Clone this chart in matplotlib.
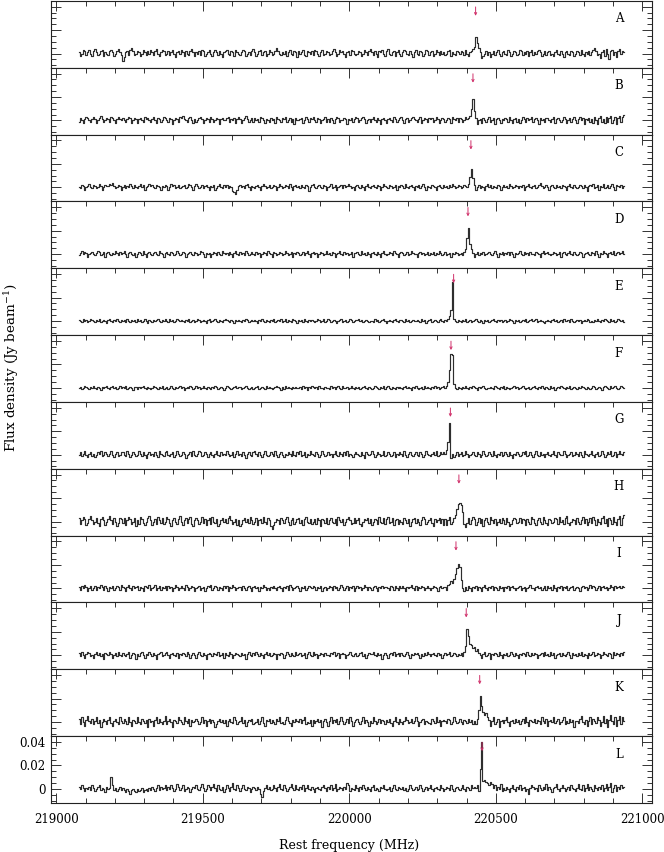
import numpy as np
import matplotlib
matplotlib.use("Agg")
import matplotlib.pyplot as plt
from matplotlib.ticker import MultipleLocator

plt.rcParams['font.family'] = 'DejaVu Serif'
plt.rcParams['mathtext.fontset'] = 'dejavuserif'

# Espectros: canais de 5 MHz a partir de 219077 MHz, valores em mJy/beam
f_inicio = 219077.0
canal = 5.0

painel_nomes = ['A', 'B', 'C', 'D', 'E', 'F', 'G', 'H', 'I', 'J', 'K', 'L']

spec_A = [1, -2, 0, 3, 2, -1, 1, 3, 0, -2,
          2, 4, 1, -1, 0, 2, 3, -2, 1, 0,
          -1, 2, 3, 1, -2, 0, 2, 4, 1, -1,
          -6, -3, 1, 2, -1, 3, 5, 2, -1, 0,
          2, 1, -2, 0, 3, 1, -1, 2, 0, 3,
          1, -1, 2, 4, 0, -2, 1, 3, 2, -1,
          0, 2, -1, 1, 3, 0, -3, 1, 2, 0,
          3, 1, -2, 2, 0, -1, 2, 4, 1, -2,
          1, 0, 2, -1, 3, 2, -2, 0, 1, 3,
          0, -2, 1, 3, 1, -1, 2, 0, -3, 1,
          2, 3, 0, -1, 2, 1, -2, 3, 1, 0,
          -1, 1, 3, 2, -2, 0, 1, -1, 2, 4,
          1, -2, 0, 2, 3, -1, 1, 2, -2, 0,
          3, 1, -1, 0, 2, 5, 2, 0, -1, 1,
          0, 2, -2, 1, 3, 0, -1, 2, 1, -3,
          2, 0, 1, 3, -1, -2, 2, 1, 0, 2,
          -1, 3, 2, 0, -2, 1, 3, -1, 0, 2,
          1, -1, 0, 2, 4, 1, -2, 0, 3, 1,
          2, 0, -3, 1, 2, -1, 3, 2, 0, -1,
          0, 2, 1, -2, 0, 3, 1, -1, 2, 4,
          1, -1, 2, 0, -3, 2, 1, 3, 0, -2,
          2, 4, 0, -1, 1, 2, -2, 1, 3, 0,
          -2, 1, 3, 2, 0, -1, 2, 0, -3, 1,
          3, 0, -1, 2, 1, -2, 0, 3, 2, -1,
          1, 2, -2, 0, 3, 1, -1, 2, 0, 1,
          -1, 0, 2, 3, -2, 1, 0, -1, 2, 1,
          0, 2, 1, -1, 3, 0, -2, 1, 2, 4,
          6, 14, 9, 5, 1, -4, -2, 0, 2, -1,
          1, -3, 0, 2, -1, 1, 3, 0, -2, 1,
          2, 0, -1, 3, 1, -2, 0, 2, 1, -1,
          0, 3, 2, -1, 1, 0, 2, -2, 1, 3,
          -1, 1, 0, 2, 3, 1, -2, 0, 2, -1,
          1, 2, -1, 0, -2, 1, 3, 0, -1, 2,
          0, -3, 1, 2, 0, -1, 2, 1, -2, 0,
          2, 1, -1, 3, 0, -2, 1, 0, 2, -1,
          1, 3, 5, 2, -1, 0, -4, 1, 3, -2,
          4, 0, -5, 2, 3, -1, 1, -3, 2, 4,
          0, 2, 1]

spec_B = [-1, 2, 0, -2, 1, 3, 2, 0, -1, 1,
          3, 1, -2, 0, 2, 4, 1, -1, 0, 2,
          1, -1, 3, 2, 0, -2, 1, 3, 1, 0,
          2, 0, -1, 1, 3, 2, -2, 0, 2, 1,
          -2, 1, 2, 0, -1, 3, 1, 2, 0, -1,
          1, 3, 0, -2, 2, 1, -1, 0, 3, 2,
          0, -1, 2, 1, -3, 0, 2, 1, -1, 3,
          2, 4, 1, 0, -1, 2, 3, 0, -2, 1,
          -1, 0, 2, 3, 1, -2, 0, 2, 1, -1,
          3, 1, -1, 0, 2, 1, -3, 1, 2, 0,
          0, 2, 3, -1, 1, 0, 2, -2, 1, 3,
          1, -2, 0, 2, 4, 1, -1, 0, 2, -1,
          2, 0, 1, -1, 3, 2, 0, -2, 1, 0,
          -1, 2, 0, 1, -2, 3, 1, 0, -1, 2,
          1, 3, -1, 0, 2, -1, 1, -3, 2, 0,
          0, 1, 2, -2, 0, 3, 1, -1, 2, 1,
          3, 0, -1, 2, 1, -2, 0, 1, 3, -1,
          1, -1, 2, 0, -2, 1, 3, 2, -1, 0,
          0, 2, 1, -3, 1, 0, 2, -1, 1, 3,
          2, -1, 0, 2, 3, 1, -2, 0, 1, -1,
          1, 3, 0, -1, 2, 0, -3, 1, 2, 0,
          -2, 1, 2, 0, -1, 3, 1, -1, 0, 2,
          3, 0, -2, 1, 2, -1, 0, 2, 3, 1,
          0, -1, 1, 3, -2, 0, 2, 1, -1, 2,
          1, 2, -1, 0, 3, 1, -2, 0, 2, 1,
          -1, 0, 2, 1, -2, 3, 1, 0, 2, -1,
          2, 1, -1, 0, 3, 1, 2, 4, 10, 18,
          8, 2, -3, 0, 1, -2, 2, 0, -1, 1,
          3, -1, 0, 2, -3, 1, 2, 0, -2, 1,
          0, 2, 1, -1, 3, 0, -2, 1, 2, -1,
          1, -2, 0, 3, 1, -1, 2, 0, 1, 3,
          -1, 1, 2, 0, -3, 2, 0, 1, -1, 2,
          2, 0, -1, 1, 3, -2, 1, 2, 0, -1,
          0, 3, 1, -2, 0, 2, -1, 1, 3, 0,
          -2, 1, 3, 0, 2, -3, 1, 0, 2, -1,
          1, -2, 3, 0, -3, 2, 4, -1, 1, -2,
          3, -1, 2, 4, -2, 0, 3, -3, 2, 4,
          -1, 3, 5]

spec_C = [0, -1, 2, 1, -2, 0, 1, 3, 0, -1,
          2, 1, -1, 0, 3, 1, -2, 0, 2, 1,
          1, 3, 2, 4, 1, -1, 0, 2, 1, -2,
          0, 2, -1, 1, 0, 3, 1, -1, 2, 0,
          -1, 1, 3, 0, 2, -2, 0, 1, 3, 1,
          2, 0, -1, 2, 1, 0, -2, 1, 0, 2,
          1, -2, 0, 3, 1, 2, -1, 0, 2, -1,
          0, 1, 2, -1, 0, 3, 2, 0, -2, 1,
          3, 1, -1, 0, 2, -1, 1, 2, 0, -2,
          1, 0, 2, -2, -1, 1, 3, 0, -1, 2,
          0, 2, -1, 1, 0, -3, -4, -6, -2, 1,
          2, 0, 1, -1, 2, 3, 0, -2, 1, 0,
          -1, 1, 2, 0, -2, 1, 3, 1, -1, 0,
          2, -1, 0, 2, 1, -2, 0, 3, 1, -1,
          0, 2, 1, -1, 3, 0, -2, 1, 2, 0,
          1, -1, 2, 0, -1, 2, 1, -3, 0, 2,
          3, 0, -1, 1, 2, 0, -1, 2, 1, -2,
          0, 1, 3, -1, 0, 2, -2, 0, 1, 2,
          -1, 2, 0, 1, 3, 1, -1, 0, -2, 1,
          2, 0, -1, 2, 0, -2, 1, 3, 0, -1,
          1, 2, 0, -1, 2, 1, -2, 0, 3, 1,
          0, -1, 2, 1, -1, 0, 2, -2, 1, 0,
          2, 1, -1, 3, 0, -1, 1, 2, 0, -2,
          1, 0, 2, -1, 1, 3, 0, -2, 1, 0,
          -1, 2, 1, 0, -2, 1, 2, 0, -1, 2,
          0, 1, -1, 2, 0, 3, 1, -1, 0, 2,
          1, -1, 0, 2, 1, 0, 3, 9, 16, 8,
          2, -2, 0, 2, -1, 1, 0, -2, 1, 3,
          0, 2, -1, 1, 0, -1, 2, 1, -2, 0,
          2, 0, 1, -1, 3, 1, -1, 0, 2, 1,
          -1, 1, 0, 2, -2, 0, 1, 3, 0, -1,
          1, 2, -1, 0, 2, 4, 1, -1, 0, 2,
          0, -2, 1, 2, 0, -1, 2, 0, 1, -1,
          2, 1, 0, -2, 1, 3, 0, -1, 2, 0,
          -1, 0, 2, 1, -1, 2, 0, -3, 1, 2,
          1, 3, -1, 0, 2, -2, 1, 0, 3, -1,
          0, 2, -1, 1, 3, 0, -2, 2, 1, 0,
          2, -1, 1]

spec_D = [-1, 1, 3, 0, 2, 1, -2, 0, 1, 2,
          0, -1, 1, 3, 2, -1, 0, 2, -2, 1,
          2, 0, -1, 1, 0, 3, 1, -1, 2, 0,
          1, 3, 0, -2, 1, 2, 0, -1, 1, -2,
          0, 2, 1, -1, 3, 0, -2, 1, 2, 0,
          -1, 1, 2, 0, -1, 3, 1, 0, -2, 1,
          2, 0, -1, 2, 1, -1, 0, 3, 1, -1,
          0, 2, 1, -2, 0, 1, 2, 0, -1, 2,
          1, -1, 0, 3, 2, 0, -2, 1, 0, 1,
          -2, 0, 2, 1, -1, 2, 0, -1, 3, 1,
          0, 1, -1, 2, 0, -2, 1, 3, 0, -1,
          2, 0, 1, -1, 3, 1, -1, 0, 2, 0,
          -1, 2, 0, 1, -2, 0, 2, 1, -1, 3,
          1, 0, -2, 2, 1, -1, 0, 2, 1, -1,
          0, 3, 1, -1, 0, 2, -2, 1, 0, 2,
          1, -1, 0, 2, -1, 1, 3, 0, -2, 1,
          2, 0, 1, -2, 0, 2, 1, -1, 0, 3,
          0, 1, -1, 2, 1, -2, 0, 1, 3, 0,
          -1, 2, 0, 1, -1, 0, 2, -2, 1, 1,
          2, 0, -1, 3, 0, 1, -1, 2, 0, -2,
          1, 2, 0, -1, 2, 0, -2, 1, 3, 0,
          -1, 0, 2, 1, -1, 3, 1, 0, -2, 1,
          2, 1, -1, 0, 2, -1, 0, 3, 1, 0,
          0, -2, 1, 2, 0, 1, -1, 0, 2, -1,
          1, 0, 2, -1, 1, 0, 3, 1, -1, 0,
          2, -1, 0, 1, -2, 1, 0, 2, 1, -1,
          0, 1, -1, 2, 4, 14, 22, 9, 4, 1,
          -2, 0, 2, -1, 1, 0, 2, -1, 0, 1,
          2, 0, -1, 1, 3, 0, -2, 1, 0, 2,
          -1, 1, 0, 2, -1, 2, 0, -2, 1, 0,
          1, 3, 0, -1, 2, 0, 1, -1, 2, 0,
          0, -1, 2, 1, 0, -2, 1, 3, 0, 1,
          2, 0, -1, 0, 2, 1, -1, 0, 2, -2,
          1, 2, 0, -1, 1, 3, 0, -1, 2, 0,
          -1, 0, 2, 1, -2, 0, 1, 2, 0, -1,
          2, 1, -1, 3, 0, -2, 1, 0, 3, 1,
          0, -2, 1, 2, 0, 3, -1, 1, 2, 0,
          1, 3, 0]

spec_E = [1, 0, -1, 2, 0, 1, -1, 0, 2, 1,
          0, -1, 1, 0, 2, -1, 0, 1, 0, -2,
          1, 2, 0, -1, 1, 0, 2, 0, -1, 1,
          0, 1, -1, 2, 0, -1, 1, 0, 1, -1,
          2, 0, 1, -1, 0, 2, 0, -2, 1, 0,
          -1, 1, 0, 1, 2, 0, -1, 1, 0, 2,
          0, -1, 2, 0, 1, -1, 0, 2, 1, 0,
          1, 0, -1, 1, 0, 2, -1, 0, 1, -1,
          0, 2, 1, -1, 0, 1, 0, -2, 1, 2,
          -1, 0, 1, 2, 0, -1, 1, 0, -1, 1,
          2, 1, 0, -1, 1, 0, -2, 1, 0, 1,
          0, -1, 1, 0, 2, 1, -1, 0, 1, 0,
          1, 0, -2, 1, 0, 2, 0, -1, 1, 0,
          -1, 1, 0, 2, -1, 0, 1, 0, 2, -1,
          0, 2, -1, 1, 0, -1, 2, 1, 0, -2,
          1, 0, 1, -1, 2, 0, -1, 1, 0, 1,
          0, -1, 0, 2, 1, -1, 0, 2, -1, 0,
          2, 1, -1, 0, 1, 0, -2, 0, 1, 2,
          -1, 0, 1, -1, 0, 2, 1, -1, 0, 1,
          1, 2, 0, 1, -1, 0, 1, 0, -1, 0,
          0, -1, 2, 0, 1, -1, 0, 1, 2, 0,
          -2, 0, 1, 0, -1, 1, 2, 0, -1, 1,
          1, 0, -1, 2, 0, 1, -1, 0, 1, 0,
          0, 1, 0, -1, 2, 0, 1, -2, 0, 1,
          2, -1, 0, 1, 0, -1, 1, 2, 0, -1,
          1, 0, 2, 4, 9, 33, 2, 0, -1, 1,
          0, -1, 1, 0, 2, -1, 0, 1, -1, 0,
          1, 2, 0, -1, 1, 0, -2, 1, 0, 1,
          -1, 0, 1, 2, 0, -1, 1, 0, 1, -1,
          0, 1, -1, 0, 2, 1, 0, -2, 1, 0,
          1, -1, 0, 1, 0, 2, -1, 0, 1, 2,
          0, 1, 2, -1, 0, 1, 0, -1, -2, 0,
          1, 0, -1, 1, 2, 0, 1, -1, 0, 1,
          -1, 2, 0, 0, 1, -1, 2, 0, -1, 0,
          1, 0, 1, -2, 0, 1, 0, 2, 1, -1,
          0, -1, 1, 0, 2, 0, -1, 1, 0, 2,
          1, 0, -1, 2, 0, 1, -1, 0, 2, 1,
          0, 1, -1]

spec_F = [0, 1, -1, 0, 2, 1, 0, -1, 1, 0,
          2, 0, -1, 1, 0, -2, 1, 0, 1, 2,
          0, -1, 1, 2, 0, 1, -1, 0, 2, 0,
          1, 0, 2, -1, 0, 1, 0, -2, 1, 1,
          -1, 1, 0, 1, 2, 0, -1, 1, 0, -1,
          0, 2, 1, 0, -1, 1, 0, 2, -1, 0,
          1, -1, 0, 2, 0, -1, 1, 0, 1, 2,
          0, 1, -2, 0, 1, 0, 2, 1, -1, 0,
          2, 0, 1, -1, 0, 2, 0, -1, 1, 0,
          -1, 1, 0, 2, 1, -1, 0, 1, 0, -2,
          0, 2, 1, 0, -1, 0, 1, 2, 0, 1,
          1, -1, 0, 1, 2, 0, -1, 0, 1, -1,
          0, 1, 2, -1, 0, 1, 0, -1, 2, 0,
          1, 0, -1, 0, 1, 2, 1, 0, -2, 1,
          -1, 2, 0, 1, 0, -1, 1, 0, 1, 0,
          0, 1, -1, 2, 0, 1, -2, 1, 0, 2,
          1, 0, 1, -1, 2, 0, 0, -1, 1, 0,
          0, -1, 2, 0, 1, -1, 1, 2, 0, -1,
          2, 0, 0, 1, -1, 0, 2, 0, -1, 1,
          0, 1, -1, 0, 1, 2, 0, -1, 1, 0,
          -1, 0, 2, 1, 0, -1, 1, 0, 2, -1,
          1, 2, 0, -1, 1, 0, -1, 1, 0, 1,
          0, -1, 1, 2, 0, 1, 0, -2, 1, 0,
          2, 0, -1, 0, 1, -1, 2, 0, 1, 0,
          -1, 1, 0, 2, 0, 1, -1, 0, 1, 2,
          0, 2, 5, 15, 29, 28, 3, 0, -1, 1,
          0, -1, 1, 0, 2, 0, -1, 1, 0, 2,
          1, 0, -2, 1, 0, 1, 2, 0, -1, 0,
          0, 1, 0, -1, 2, 1, 0, -1, 1, 0,
          2, -1, 1, 0, -1, 0, 1, 2, 0, 1,
          -1, 0, 1, 2, 0, -1, 0, 1, -1, 0,
          1, 2, 0, -1, 1, 0, 2, 0, -1, 1,
          0, -1, 2, 0, 1, -2, 0, 1, 0, 2,
          1, 0, -1, 1, 0, 2, -1, 0, 1, 0,
          -1, 1, 0, 2, 1, 0, -1, 1, 0, -1,
          0, 2, 1, -1, 0, 1, 0, -2, 1, 2,
          1, 0, -1, 2, 0, 1, 2, 0, -1, 0,
          2, 1, 0]

spec_G = [0, 2, -1, 1, 3, 0, -2, 1, 2, -1,
          1, -2, 0, 2, 1, 3, -1, 0, 2, 1,
          -1, 1, 3, 0, -2, 1, 2, -1, 0, 2,
          2, 0, -1, 3, 1, -2, 0, 2, 1, -1,
          0, 3, 1, -1, 2, 0, -3, 1, 2, 0,
          1, -1, 2, 0, -2, 3, 1, 0, -1, 2,
          3, 0, -1, 1, 2, -2, 0, 3, 1, -1,
          0, 2, 1, -3, 0, 1, 2, -1, 3, 0,
          -1, 1, 3, 2, -1, 0, 2, 1, -2, 1,
          2, 0, -2, 1, 3, 0, -1, 2, 0, 1,
          0, 3, 1, -1, 0, 2, -2, 1, 3, 0,
          1, -1, 2, 0, -3, 1, 2, 0, -1, 2,
          3, 1, -1, 2, 0, -2, 1, 3, 0, -1,
          0, 2, 1, -1, 3, 0, -2, 1, 2, 0,
          -2, 1, 0, 2, 1, -1, 3, 0, -1, 2,
          1, 3, -1, 0, 2, -2, 1, 0, 3, 1,
          0, -1, 2, 1, -2, 0, 3, 1, -1, 0,
          2, 0, 1, -2, 1, 3, 0, -1, 2, 1,
          -1, 2, 0, 3, -1, 1, 0, -2, 1, 2,
          1, 0, -1, 2, 0, -3, 2, 1, 0, 1,
          3, 1, -2, 0, 2, 1, -1, 0, 3, -1,
          0, 2, 1, -1, 0, 2, -2, 1, 0, 2,
          1, -1, 3, 0, -2, 1, 2, 0, -1, 1,
          2, 0, -1, 2, 1, -2, 0, 3, 1, 0,
          -1, 1, 2, 0, 3, -1, 0, 2, 1, 2,
          1, 4, 11, 27, -3, 1, -2, 0, 2, -1,
          1, 2, -1, 0, 3, 1, -2, 0, 1, 2,
          0, -1, 2, 1, -2, 0, 3, 1, -1, 0,
          2, 1, -1, 3, 0, -2, 1, 0, 2, -1,
          0, 2, 1, -1, 2, 0, -3, 1, 0, 2,
          1, -1, 0, 2, 1, 3, -1, 0, 2, 0,
          -2, 1, 3, 0, -1, 2, 0, 1, -2, 1,
          2, 0, -1, 1, 3, 0, -2, 2, 1, 0,
          0, 3, 1, -2, 0, 1, 2, -1, 0, 2,
          1, -1, 2, 0, -2, 3, 1, 0, -1, 1,
          3, 0, -2, 1, 2, -1, 0, 3, 1, -2,
          0, 2, 1, 3, -1, 0, 2, -2, 1, 3,
          1, 0, 2]

spec_H = [3, -2, 1, 4, 2, -3, -1, 2, 5, 1,
          -2, 0, 3, -1, -4, 2, 4, 1, -3, 0,
          2, 5, 1, -2, 3, 0, -4, -1, 3, 2,
          -1, 3, -3, 1, 4, 2, -2, 0, 3, -4,
          1, -2, 4, 2, -1, -3, 0, 3, 5, 1,
          -3, 0, 2, -2, 4, 1, -1, 3, -2, 0,
          4, 2, -1, -4, 1, 3, 0, -2, 2, 5,
          0, -3, 1, 3, -1, 2, 4, -2, -4, 1,
          3, 1, -2, 0, 4, -1, 2, -3, 1, 3,
          -2, 4, 0, -1, 2, -4, -2, 1, 3, 0,
          2, -1, 3, 5, 1, -2, 0, 2, -3, 1,
          -4, -2, 1, 3, 0, 2, -1, 4, 1, -2,
          0, 3, -3, 1, 2, -1, 4, 0, -2, 3,
          1, -4, -6, -3, 0, 2, 1, -2, 3, 1,
          -1, 2, 4, 0, -3, 1, 3, -2, 0, 2,
          3, -1, 1, -3, 2, 4, 0, -1, 2, -2,
          0, 2, -2, 3, 1, -4, 2, 1, -1, 3,
          -2, 1, 3, 0, -1, 2, -3, 4, 1, 0,
          2, -3, 0, 2, 4, 1, -2, -1, 3, -1,
          1, 3, -2, -4, 0, 2, 1, 3, -1, 2,
          -3, 0, 2, 1, -2, 4, 0, -1, 3, -2,
          2, 4, -1, 0, 3, -3, 1, 2, -2, 1,
          0, -2, 3, 1, -1, 2, -4, 0, 2, 3,
          -1, 2, 0, -3, 1, 4, 2, -2, 0, 1,
          3, -1, -4, 2, 0, 1, 3, -1, 2, -3,
          2, -3, 1, 4, -2, 0, 3, 6, 11, 15,
          16, 14, 8, -2, -5, -1, 3, -2, 1, 4,
          2, -3, 0, 3, -1, 2, -4, 1, 3, 0,
          -2, 4, 1, -1, 2, -3, 0, 2, -1, 3,
          1, -2, 3, 0, -4, -2, 1, 3, 2, -1,
          0, 3, -1, 2, 1, -3, 2, 0, -2, 4,
          2, -1, -3, 1, 3, 0, -2, 4, 1, -1,
          -3, 2, 1, -1, 0, 3, 2, -2, 4, 0,
          1, -2, 3, 5, -1, -3, 0, 2, 1, -2,
          3, 0, -2, 1, 4, -1, 2, -3, 0, 3,
          -1, 4, 1, -3, 2, 0, -2, 3, 5, -1,
          2, -4, 3, 1, -2, 4, 0, -3, 2, 5,
          -3, 3, 6]

spec_I = [1, -1, 2, 0, 3, 1, -2, 0, 2, -1,
          0, 2, -1, 1, 0, 3, 1, -1, 2, 0,
          -2, 1, 0, 2, -1, 0, 2, 1, -1, 3,
          1, 0, -2, 1, 3, 0, -1, 2, 0, 1,
          2, -1, 1, 0, -2, 2, 1, 0, 3, -1,
          0, 1, 3, -1, 0, 2, -1, 1, 0, 2,
          -1, 2, 0, 1, -2, 0, 3, 1, -1, 0,
          2, 0, -1, 3, 1, -1, 0, 2, 1, -2,
          0, 1, 2, -1, 0, 1, -2, 0, 2, 1,
          3, -1, 0, 2, 1, -1, 1, 0, -1, 2,
          0, 2, -2, 1, 0, 3, 1, -1, 0, 1,
          1, -1, 2, 0, -1, 1, 2, 0, -2, 1,
          2, 0, 1, -2, 1, 0, 3, 1, -1, 0,
          -1, 1, 0, 2, 0, -1, 1, 2, 0, -2,
          1, 0, 2, -1, 3, 1, -1, 0, 1, 2,
          0, -2, 1, 0, 2, -1, 0, 2, 1, 0,
          2, 1, -1, 1, 0, 2, -2, 0, 1, -1,
          0, 2, 1, -1, 2, 0, 1, -1, 0, 3,
          1, -1, 0, 2, -1, 1, 0, 2, -2, 0,
          2, 0, 1, -1, 0, 3, 1, -1, 1, 0,
          -1, 1, 2, 0, -2, 1, 0, 2, 0, 1,
          1, 0, -1, 2, 1, -1, 2, 0, -1, 2,
          0, 2, 0, -2, 1, 0, 1, 3, 0, -1,
          2, -1, 1, 0, 2, 1, -1, 0, 2, 0,
          -1, 0, 2, 1, 0, -2, 1, 2, 0, 1,
          1, -1, 3, 4, 6, 5, 8, 12, 17, 21,
          18, 7, 0, -2, 1, -1, 2, 0, -2, 1,
          0, 2, -1, 1, 0, -2, 1, 3, 0, -1,
          1, 0, 2, -1, 1, 0, -1, 2, 0, 1,
          -2, 1, 0, 2, -1, 1, 2, 0, -1, 0,
          1, 2, -1, 0, 1, -2, 0, 1, 3, 0,
          0, -1, 1, 2, 0, 1, -1, 0, 2, -1,
          2, 0, 1, -1, 3, 0, -2, 1, 0, 2,
          -1, 1, 0, 2, -1, 0, 1, 2, -1, 0,
          1, 0, -2, 1, 2, 0, 1, -1, 0, 3,
          0, 2, 1, -1, 0, 2, -1, 1, 2, 0,
          1, -1, 0, 3, 1, -1, 2, 0, 1, 2,
          0, 2, 1]

spec_J = [2, -1, 3, 0, -2, 1, 3, 2, -1, 0,
          -2, 1, 3, 0, 2, -1, 1, -3, 2, 1,
          0, 3, 1, -2, 0, 2, -1, 3, 0, -1,
          2, 0, -1, 1, 3, -2, 0, 2, 1, -3,
          1, -1, 2, 3, 0, -2, 1, 0, 3, 1,
          -1, 2, 0, -3, 1, 2, 3, -1, 0, 2,
          3, 0, -2, 1, 2, 0, -1, 2, -2, 1,
          0, 2, 1, -1, 3, 1, -2, 0, 2, 0,
          -2, 1, 3, 0, -1, 2, 0, -3, 1, 2,
          1, -1, 2, 1, 0, 3, -1, 0, 2, -2,
          2, 0, -1, 3, 1, -2, 0, 2, 1, 0,
          -1, 2, 0, 1, -3, 1, 3, 0, -1, 2,
          0, 3, 1, -1, 2, 0, -2, 1, 3, 0,
          2, -1, 0, 2, 1, -3, 1, 0, 2, 1,
          -2, 0, 3, 1, -1, 2, 0, -1, 3, 0,
          1, 2, -1, 0, 2, -2, 1, 3, 0, -1,
          3, 0, 1, -2, 0, 2, 1, -1, 2, 0,
          0, -1, 2, 1, 3, -1, 0, 2, -2, 1,
          2, 1, -2, 0, 1, 3, 0, -1, 1, 2,
          -1, 0, 2, 3, -1, 1, -2, 0, 2, 1,
          1, 3, 0, -1, 2, 0, 1, -3, 0, 2,
          0, -2, 1, 2, 0, 3, -1, 1, 2, -1,
          2, 0, -1, 1, 3, 0, -2, 1, 0, 2,
          1, 2, 0, -2, 1, -1, 2, 0, 3, 1,
          -1, 1, 2, 0, -1, 2, 0, 1, -2, 0,
          2, 0, 1, 3, -1, 0, 2, 1, -1, 1,
          0, 2, -1, 3, 8, 22, 16, 10, 9, 6,
          7, 4, 5, 2, 0, -2, 1, 3, -1, 0,
          2, -3, 1, 0, 2, 1, -1, 3, 0, -2,
          1, 0, 2, -1, 0, 3, 1, -1, 2, 0,
          -2, 1, 0, 2, 1, -1, 3, 0, -1, 2,
          0, 2, 1, -2, 0, 1, 2, -1, 3, 0,
          1, -1, 3, 0, 2, -2, 0, 1, 2, -1,
          2, 0, -1, 1, 3, 0, -2, 2, 0, 1,
          -1, 2, 0, 3, -1, 1, 0, -2, 2, 0,
          1, 3, -1, 0, 2, 1, -2, 0, 3, 1,
          0, -1, 2, 1, -2, 3, 0, 2, 1, -1,
          2, 0, 3]

spec_K = [3, -2, 4, 0, -3, 2, 5, 1, -1, 3,
          -2, 1, 4, -1, 2, -4, 0, 3, 1, -2,
          2, 4, -1, -3, 1, 3, 0, -2, 4, 1,
          -1, 3, 1, -2, 4, 0, -3, 2, 1, -1,
          4, 0, -2, 3, 1, -1, 2, -4, 3, 0,
          1, -3, 2, 4, -1, 3, 0, -2, 1, 5,
          -2, 1, 3, 0, -4, 2, 1, -1, 4, 2,
          0, -2, 4, 1, -1, 3, -3, 2, 0, 1,
          3, 1, -2, 0, 4, -1, 2, -3, 1, 3,
          -1, 2, 0, -4, -2, 1, 3, 0, 2, -1,
          2, -3, 1, 3, 0, -1, 4, 2, -2, 0,
          1, 4, -1, 2, -3, 0, 2, 1, 3, -2,
          -1, 0, 3, -2, 1, 4, -1, -3, 2, 1,
          3, -1, 2, 0, -2, 3, 1, 4, -1, 0,
          -2, 2, 4, 1, -1, -3, 2, 0, 3, 1,
          0, 3, -1, 2, 4, -2, 0, -1, 2, -3,
          2, -1, 1, 3, 0, 2, -4, 1, 3, 0,
          -3, 1, 4, -1, 2, 0, 3, -2, 1, 4,
          1, -2, 0, 3, -1, 4, 1, -3, 0, 2,
          3, 0, -2, 1, 4, -1, 2, 0, -3, 1,
          -1, 4, 1, -2, 0, 3, -1, 2, 1, -2,
          2, 0, 3, -1, -3, 1, 4, 0, -2, 3,
          0, -2, 1, 4, 2, -1, 0, 3, -1, 1,
          4, 1, -3, 0, 2, 3, -2, 1, 0, -1,
          -2, 3, 1, -1, 4, 0, 2, -3, 1, 2,
          1, -1, 3, 2, -2, 0, 4, 1, -1, 0,
          3, 0, -2, 2, 1, -1, 3, 0, 2, -2,
          1, -2, 3, 10, 22, 14, 9, 6, 8, 4,
          2, -3, 1, 4, -2, 0, 3, -4, 1, 2,
          -1, 2, 4, 0, -3, 1, 2, -1, 3, 0,
          2, -2, 1, 3, -1, 4, 0, -3, 2, 1,
          0, 3, -1, 2, 1, -2, 4, 1, -1, 3,
          -3, 1, 2, 0, 4, -1, 1, 3, -2, 0,
          2, 4, -2, 1, -1, 3, 0, 2, -4, 1,
          1, -1, 3, 5, 0, -2, 2, -3, 1, 4,
          -2, 3, 1, -1, 4, 2, -3, 0, 5, -1,
          3, -4, 2, 6, 1, -2, 4, -3, 2, 5,
          -2, 4, 1]

spec_L = [2, 0, 3, 1, -2, 1, 0, 2, -1, 3,
          1, -2, 0, 2, 3, -1, 1, 0, -3, 2,
          0, 1, 10, 3, -1, 1, -2, 0, 2, -1,
          1, -1, -3, 0, -2, -4, -1, 0, -2, -3,
          0, -2, -1, 1, -3, -1, 0, -2, 1, -1,
          2, 0, -2, 1, 3, -1, 2, 0, 1, 3,
          -1, 2, 0, 3, 1, -2, 0, 4, 2, -1,
          1, 3, -2, 0, 2, 1, -3, 0, 2, 1,
          3, 0, -1, 2, 4, 1, -2, 0, 3, 2,
          -1, 2, 4, 1, -2, 3, 0, -1, 2, -3,
          0, 3, 1, -2, 2, 5, 0, -1, 3, 1,
          -2, 1, 3, 0, -1, 2, 1, -3, 0, 2,
          1, -1, 2, 0, -4, -7, -2, 1, 3, 0,
          2, -1, 0, 3, 1, -2, 2, 4, 0, -1,
          3, 1, -2, 0, 2, 4, 1, -1, 3, 0,
          -1, 2, 0, 3, -2, 1, 3, 0, -1, 2,
          0, -3, 1, 2, 0, -1, 2, 3, 1, -2,
          2, 0, 3, -1, 1, 4, -2, 0, 2, 1,
          -1, 2, 0, 5, 3, -2, 1, 0, -1, 3,
          1, -2, 2, 0, 3, 1, -1, 2, 0, -2,
          2, 3, -1, 1, 0, -2, 2, 1, 3, 0,
          -1, 0, 2, -2, 1, 3, 0, -1, 2, 1,
          0, 2, -1, 1, -2, 0, 3, 1, -1, 0,
          2, -1, 0, 3, 1, -2, 0, 2, -1, 1,
          3, 0, -2, 1, 2, 0, -1, 3, 1, -2,
          0, 2, 1, -1, 3, 0, -2, 1, 2, 0,
          -1, 1, 3, 0, -2, 2, 1, -1, 3, 1,
          2, 1, 3, -2, 17, 40, 7, 8, 6, 5,
          3, 6, 4, 1, 3, -1, 2, 0, 4, -2,
          1, -1, 2, 0, -3, 1, 3, 0, -2, 2,
          0, 3, -1, 1, 2, -2, 0, -4, 1, 3,
          2, 0, 1, -2, 3, 1, -1, 2, 0, 4,
          -1, 2, 0, -3, 1, 2, 4, 0, -2, 1,
          3, 1, -2, 0, 2, -1, 3, 1, 0, -2,
          1, 4, 0, -1, 3, -2, 1, 4, -1, 2,
          0, -2, 3, 1, -1, 2, 0, 3, -2, 1,
          4, -1, 2, 5, -3, 1, 3, -2, 2, 0,
          3, 1, 2]

espectros = [spec_A, spec_B, spec_C, spec_D, spec_E, spec_F,
             spec_G, spec_H, spec_I, spec_J, spec_K, spec_L]

# Posições das setas (MHz)
setas = [220431, 220422, 220415, 220405, 220356, 220347,
         220345, 220374, 220364, 220399, 220445, 220453]

y_min, y_max = -0.012, 0.045

fig, axes = plt.subplots(12, 1, figsize=(6.64, 8.52), dpi=100, sharex=True)
fig.subplots_adjust(left=51/664, right=652/664, top=0.999, bottom=1 - 803/852, hspace=0)

for i, ax in enumerate(axes):
    vals = np.array(espectros[i]) / 1000.0
    freq = f_inicio + canal * np.arange(len(vals))
    ax.plot(freq, vals, drawstyle='steps-mid', color='#2e2e2e', lw=0.85)

    ax.annotate('', xy=(setas[i], 0.0322), xytext=(setas[i], 0.0398),
                arrowprops=dict(arrowstyle='->', color='#d0306a', lw=0.7,
                                mutation_scale=4, shrinkA=0, shrinkB=0))
    ax.text(220920, 0.0297, painel_nomes[i], fontsize=8.5, ha='center', va='center')

    ax.set_xlim(218982, 221033)
    ax.set_ylim(y_min, y_max)
    ax.xaxis.set_major_locator(MultipleLocator(500))
    ax.xaxis.set_minor_locator(MultipleLocator(100))
    ax.yaxis.set_major_locator(MultipleLocator(0.02))
    ax.yaxis.set_minor_locator(MultipleLocator(0.005))
    ultimo = (i == len(axes) - 1)
    ax.tick_params(which='both', direction='in', top=True, bottom=ultimo,
                   left=True, right=True, labelleft=ultimo, labelbottom=ultimo,
                   labelsize=8.5, width=0.7, color='#333333')
    ax.tick_params(which='major', length=7.5, pad=4)
    ax.tick_params(which='minor', length=3.5)
    ax.tick_params(axis='x', which='major', pad=7)
    for s in ax.spines.values():
        s.set_linewidth(0.8)
        s.set_color('#222222')

axes[-1].yaxis.set_major_formatter(plt.FuncFormatter(lambda v, p: '0' if abs(v) < 1e-9 else f'{v:.2f}'))

fig.text(349.5/664, 1 - 845/852, 'Rest frequency (MHz)', fontsize=9, ha='center', va='center')
fig.text(12/664, 1 - 368/852, 'Flux density (Jy beam$^{-1}$)', fontsize=9.7,
         ha='center', va='center', rotation=90)

fig.savefig('out.png', dpi=100)
